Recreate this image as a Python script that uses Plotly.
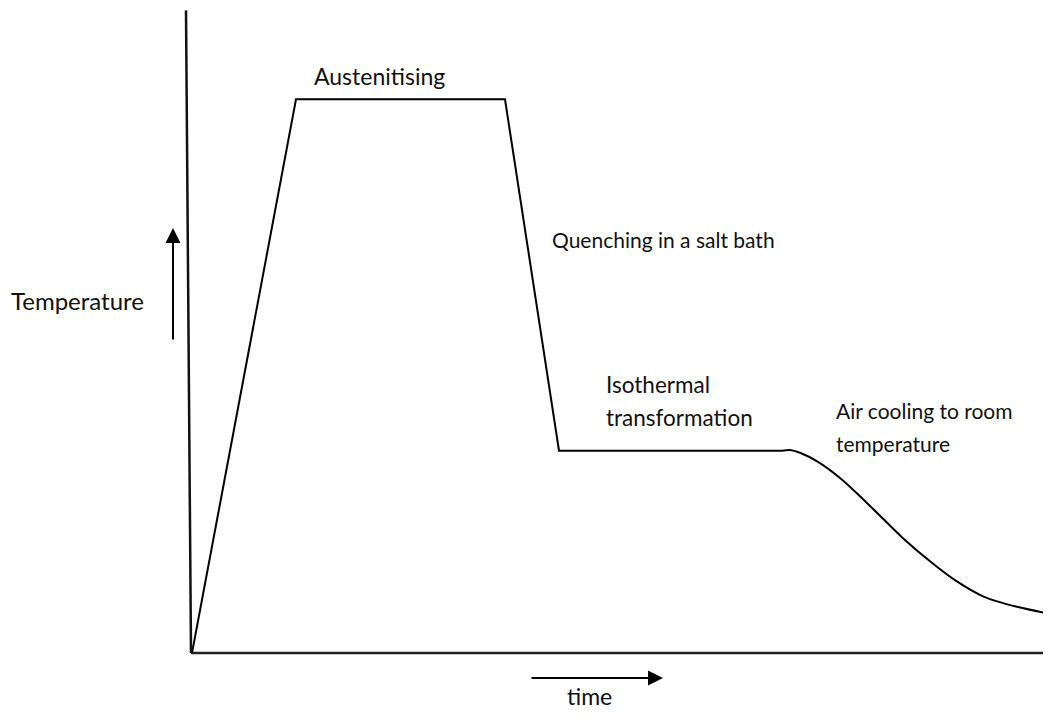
import plotly.graph_objects as go

# heat-treatment path (austempering), arbitrary time units, temperature in deg C
time_heat = [0.1, 10.5, 31.4, 36.8, 59.1]
temp_heat = [0, 791, 791, 289, 289]

time_cool = [59.1, 59.9, 60.9, 62.7, 64.9, 66.9, 68.9, 71.2, 73.9, 76.4, 79.2, 82.6, 85.9]
temp_cool = [289, 290, 286, 273, 250, 224, 196, 164, 131, 104, 81, 66, 56]

labels = ["Austenitising", "Quenching in a salt bath", "Isothermal", "transformation",
          "Air cooling to room", "temperature"]

FONT = "Lato"
fig = go.Figure()

fig.add_trace(go.Scatter(x=time_heat, y=temp_heat, mode="lines",
                         line=dict(color="black", width=2), hoverinfo="skip"))
fig.add_trace(go.Scatter(x=time_cool, y=temp_cool, mode="lines",
                         line=dict(color="black", width=2, shape="spline", smoothing=0.8),
                         hoverinfo="skip"))

# hand-drawn axes
fig.add_shape(type="line", x0=0, y0=0, x1=86, y1=0, line=dict(color="#222", width=2.5))
fig.add_shape(type="line", x0=0, y0=0, x1=-0.5, y1=918, line=dict(color="#111", width=2.5))

# stage labels
pos = [(12.1, 824, 23), (35.9, 590, 21), (41.3, 384, 22.5), (41.3, 337, 22.5),
       (64.3, 347, 21), (64.3, 299, 21)]
for txt, (x, y, s) in zip(labels, pos):
    fig.add_annotation(x=x, y=y, text=txt, showarrow=False, xanchor="left", yanchor="middle",
                       font=dict(family=FONT, size=s, color="#111"))

fig.add_annotation(x=-18.2, y=504, text="Temperature", showarrow=False, xanchor="left",
                   yanchor="middle", font=dict(family=FONT, size=24, color="#111"))
fig.add_annotation(x=37.4, y=-62, text="time", showarrow=False, xanchor="left",
                   yanchor="middle", font=dict(family=FONT, size=23, color="#111"))

# direction arrows
fig.add_annotation(x=-1.8, y=607, ax=0, ay=113, text="", showarrow=True,
                   arrowhead=2, arrowwidth=2, arrowsize=1.5, arrowcolor="black")
fig.add_annotation(x=47.2, y=-35.7, ax=-133, ay=0, text="", showarrow=True,
                   arrowhead=2, arrowwidth=2, arrowsize=1.5, arrowcolor="black")

# page body adds an 8px margin, so the figure is kept inside the window
fig.update_xaxes(range=[-18.3, 86], visible=False)
fig.update_yaxes(range=[-82.86, 921.4], visible=False)
fig.update_layout(width=1043, height=703, autosize=False, showlegend=False,
                  margin=dict(l=0, r=0, t=0, b=0),
                  plot_bgcolor="white", paper_bgcolor="white")

fig.write_html("out.html")
